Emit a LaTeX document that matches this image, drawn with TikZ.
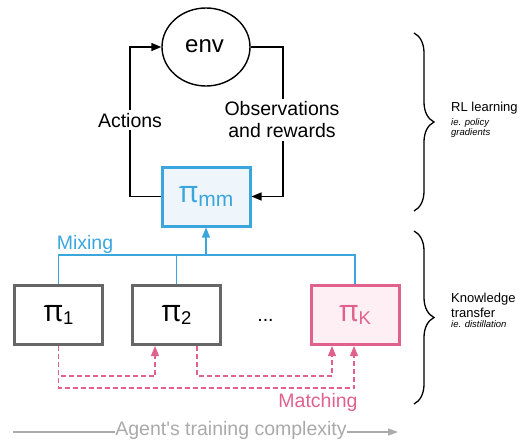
\documentclass[tikz,border=0pt]{standalone}
\usepackage{fontspec}
\setmainfont{Liberation Sans}
\newfontfamily\pifont{Open Sans}
\usetikzlibrary{arrows.meta,decorations.pathreplacing,shapes.geometric}
\definecolor{mixblue}{HTML}{3AA6DD}
\definecolor{mixfill}{HTML}{EEF6FC}
\definecolor{matchpink}{HTML}{E0628C}
\definecolor{pinkfill}{HTML}{FDEFF4}
\definecolor{boxgray}{HTML}{666666}
\definecolor{axisgray}{HTML}{AAAAAA}
\newcommand{\fs}[1]{\fontsize{#1}{#1}\selectfont}
\newcommand{\polname}[2]{{\pifont\fs{30}π}\raisebox{-3.5pt}{\fs{#2}#1}}
\begin{document}
\begin{tikzpicture}[x=1pt,y=-1pt,
  txt/.style={font=\fs{19.5}, inner sep=0pt},
  polbox/.style={draw=boxgray, line width=3pt, minimum width=88pt, minimum height=59pt, inner sep=0pt, fill=white},
  conn/.style={line width=1.4pt, -{Triangle[length=10pt,width=8pt]}},
  mix/.style={mixblue, line width=1.1pt},
  match/.style={matchpink, line width=1.2pt, dash pattern=on 5pt off 3pt, -{Triangle[length=10pt,width=8pt]}},
  bracestyle/.style={line width=1.3pt, decorate, decoration={brace, amplitude=20pt}},
  side/.style={anchor=base west, inner sep=0pt, font=\fs{13}},
  sidesmall/.style={anchor=base west, inner sep=0pt, font=\fs{9.5}\itshape}
]
\useasboundingbox (0,0) rectangle (521,441);

% env ellipse
\node[draw, line width=1.4pt, ellipse, minimum width=88pt, minimum height=78pt, inner sep=0pt] (env) at (206,47) {};
\node[font=\fs{24}, anchor=base, inner sep=0pt] (envtxt) at (204.5,53) {env};

% policies
\node[polbox, draw=mixblue, fill=mixfill, text=mixblue] (pimm) at (206,196.5) {\polname{mm}{21}};
\node[polbox] (pi1) at (58.5,315) {\polname{1}{18.5}};
\node[polbox] (pi2) at (176.5,315) {\polname{2}{18.5}};
\node[polbox, draw=matchpink, fill=pinkfill, text=matchpink] (piK) at (355,315) {\polname{K}{18.5}};
\node[txt, anchor=base] (dots) at (265.5,321) {...};

% RL loop
\coordinate (actx) at (130,196.5);
\coordinate (obsx) at (283,47);
\draw[conn] (pimm.west) -- (actx) |- (env.west);
\draw[conn] (env.east) -- (obsx) |- (pimm.east);
\node[txt, fill=white, anchor=base, inner ysep=3pt] (actlbl) at (130,127) {Actions};
\node[txt, fill=white, align=center, inner ysep=3pt, font=\fontsize{19.5}{22}\selectfont] (obslbl) at (282,120) {Observations\\and rewards};

% Mixing
\coordinate (mixy) at (0,255);
\draw[mix] (pi1.north) -- (pi1.north |- mixy) -- (piK.north |- mixy) -- (piK.north);
\draw[mix] (pi2.north) -- (pi2.north |- mixy);
\draw[mix, -{Triangle[length=10pt,width=8pt]}] (pimm.south |- mixy) -- (pimm.south);
\node[txt, text=mixblue, anchor=base] (mixlbl) at (85,249) {Mixing};

% Matching
\coordinate (ya) at (0,376);
\coordinate (yb) at (0,388);
\draw[match] (pi1.south) -- (pi1.south |- ya) -- ([xshift=-21.5pt]pi2.south |- ya) -- ([xshift=-21.5pt]pi2.south);
\draw[match] (pi1.south) -- (pi1.south |- yb) -- ([xshift=-1pt]piK.south |- yb) -- ([xshift=-1pt]piK.south);
\draw[match] ([xshift=20.5pt]pi2.south) -- ([xshift=20.5pt]pi2.south |- ya) -- ([xshift=-23pt]piK.south |- ya) -- ([xshift=-23pt]piK.south);
\node[txt, text=matchpink, anchor=base] (matchlbl) at (318,407) {Matching};

% braces
\coordinate (b1t) at (414,33);
\coordinate (b1b) at (414,211);
\coordinate (b2t) at (414,231);
\coordinate (b2b) at (414,404);
\draw[bracestyle] (b1t) -- (b1b);
\draw[bracestyle] (b2t) -- (b2b);
\node[side] (rl1) at (451,111.5) {RL learning};
\node[sidesmall] (rl2) at (451,125.5) {ie. policy};
\node[sidesmall] (rl3) at (451,135.5) {gradients};
\node[side] (kt1) at (451,302) {Knowledge};
\node[side] (kt2) at (451,317) {transfer};
\node[sidesmall] (kt3) at (451,327) {ie. distillation};

% complexity axis
\coordinate (axs) at (13,432);
\coordinate (axe) at (398,432);
\draw[axisgray, line width=1.2pt, -{Triangle[length=10pt,width=7pt]}] (axs) -- (axe);
\node[txt, text=axisgray, fill=white, inner ysep=2pt, font=\fs{19.5}] (axlbl) at (231,430) {Agent{\addfontfeatures{Ligatures=TeXOff}'}s training complexity};
\end{tikzpicture}
\end{document}
